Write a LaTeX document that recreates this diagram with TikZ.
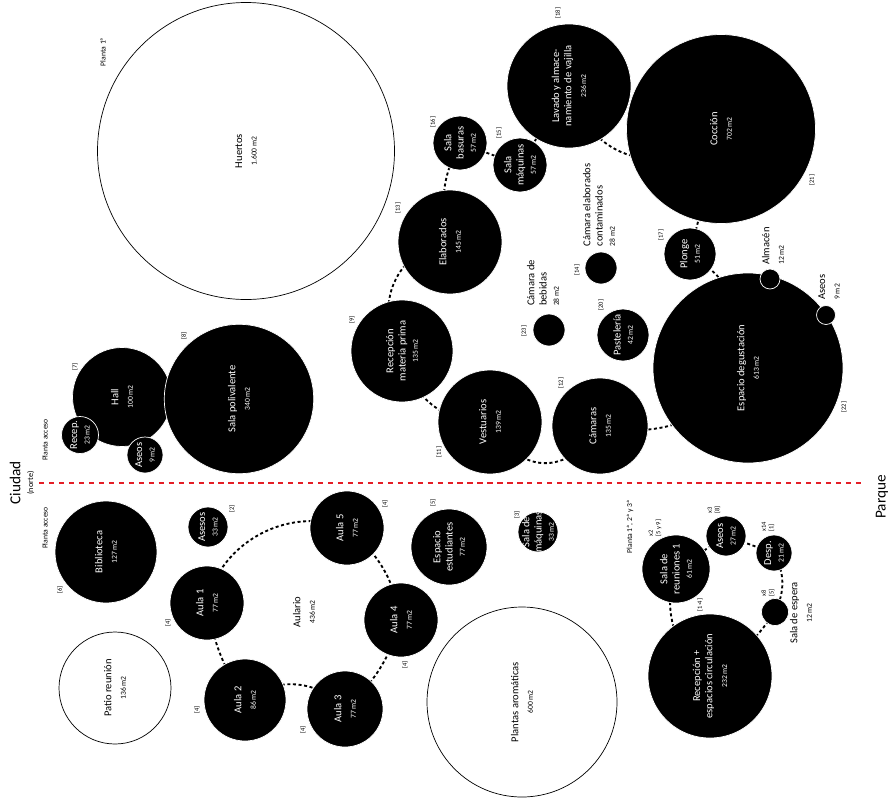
\documentclass[tikz,border=0pt]{standalone}
\usepackage{fontspec}
\setmainfont{Carlito}
\usetikzlibrary{
    positioning,
    backgrounds
}
\definecolor{limitred}{RGB}{228, 30, 38}
\newcommand{\msq}[1]{{\fontsize{6.5}{8}\selectfont #1 m2}}
\tikzset{
    room/.style={circle, fill=black, draw=white, line width=0.6pt, inner sep=0pt, minimum size=#1*0.06cm},
    openroom/.style={circle, fill=white, draw=black, line width=0.6pt, inner sep=0pt, minimum size=#1*0.06cm},
    rtxt/.style={rotate=90, align=center, text=white, inner sep=0pt, font=\fontsize{9}{10.5}\selectfont},
    otxt/.style={rtxt, text=black},
    sidetxt/.style={rotate=90, align=left, inner sep=0pt, font=\fontsize{9}{10.5}\selectfont},
    roomtag/.style={rotate=90, align=left, inner sep=0pt, font=\fontsize{5.5}{6.5}\selectfont},
    plantatxt/.style={rotate=90, inner sep=0pt, font=\fontsize{6.5}{8}\selectfont},
    link/.style={line width=1.6pt, dash pattern=on 2.6pt off 2.2pt},
    divider/.style={draw=limitred, line width=2.4pt, dash pattern=on 4.5pt off 4pt}
}

\begin{document}
\begin{tikzpicture}[x=0.03cm, y=-0.03cm]
    \useasboundingbox (0,0) rectangle (892,803);

    % Planta 1a: huertos y cocina
    \node[plantatxt] (p1) at (103,52) {Planta 1ª};
    \node[openroom=148.5, label={[otxt]center:{Huertos\\[2pt]\msq{1.600}}}] (hue) at (246,151) {};
    \node[room=62, label={[rtxt]center:{Lavado y almace-\\namiento de vajilla\\[2pt]\msq{236}}}] (lav) at (569,86) {};
    \node[room=94.5, label={[rtxt]center:{Cocción\\[2pt]\msq{702}}}] (coc) at (721,129) {};
    \node[room=27, label={[rtxt]center:{Sala\\basuras\\\msq{57}}}] (bas) at (460,143) {};
    \node[room=27, label={[rtxt]center:{Sala\\máquinas\\\msq{57}}}] (maq) at (520,165) {};
    \node[room=52, label={[rtxt]center:{Elaborados\\[2pt]\msq{145}}}] (ela) at (450,242) {};
    \node[room=26, label={[rtxt]center:{Plonge\\\msq{51}}}] (plo) at (690,254) {};
    \node[room=95, label={[rtxt]center:{Espacio degustación\\[2pt]\msq{613}}}] (deg) at (748,368) {};
    \node[room=10] (alm) at (770,279) {};
    \node[room=9.5] (asc) at (826,315) {};
    \node[room=16] (cec) at (601,268) {};
    \node[room=16] (beb) at (549,330) {};
    \node[room=26, label={[rtxt]center:{Pastelería\\\msq{42}}}] (pas) at (623,335) {};
    \node[room=51, label={[rtxt]center:{Recepción\\materia prima\\\msq{135}}}] (rmp) at (402,351) {};
    \node[room=52, label={[rtxt]center:{Vestuarios\\[2pt]\msq{139}}}] (ves) at (490,422) {};
    \node[room=48, label={[rtxt]center:{Cámaras\\[2pt]\msq{135}}}] (cam) at (600,426) {};

    % textos fuera de los circulos
    \node[sidetxt] (cecl) at (599,205) {Cámara elaborados\\contaminados\\\msq{28}};
    \node[sidetxt] (bebl) at (543,283) {Cámara de\\bebidas\\\msq{28}};
    \node[sidetxt] (alml) at (773,246) {Almacén\\[2pt]\msq{12}};
    \node[sidetxt] (ascl) at (829,287) {Aseos\\[2pt]\msq{9}};

    % numeros
    \node[roomtag] at (558,13) {[18]};
    \node[roomtag] at (433,122) {[16]};
    \node[roomtag] at (499,133) {[15]};
    \node[roomtag] at (398,208) {[13]};
    \node[roomtag] at (812,180) {[21]};
    \node[roomtag] at (661,235) {[17]};
    \node[roomtag] at (577,270) {[14]};
    \node[roomtag] at (601,305) {[20]};
    \node[roomtag] at (524,331) {[23]};
    \node[roomtag] at (352,320) {[9]};
    \node[roomtag] at (561,383) {[12]};
    \node[roomtag] at (439,452) {[11]};
    \node[roomtag] at (844,407) {[22]};

    % Planta acceso (norte)
    \node[plantatxt] (pa1) at (45,440) {Planta acceso};
    \node[room=49.5, label={[rtxt]center:{Hall\\[2pt]\msq{100}}}] (hall) at (122,397) {};
    \node[room=74.7, label={[rtxt]center:{Sala polivalente\\[2pt]\msq{340}}}] (pol) at (239,399) {};
    \node[room=18.5, label={[rtxt]center:{Recep.\\\msq{23}}}] (rcp) at (80,435) {};
    \node[room=18, label={[rtxt]center:{Aseos\\\msq{9}}}] (aseh) at (145,455) {};
    \node[roomtag] at (75,367) {[7]};
    \node[roomtag] at (184,336) {[8]};

    % limite ciudad / parque
    \node[rotate=90, align=center, inner sep=0pt, font=\fontsize{13}{11}\selectfont] (city) at (22,483) {Ciudad\\{\fontsize{7}{8}\selectfont(norte)}};
    \node[rotate=90, inner sep=0pt, font=\fontsize{13}{14}\selectfont] (park) at (882,497) {Parque};
    \draw[divider, shorten <=4pt, shorten >=10pt] (city.south) -- (city.south -| park.north);

    % Planta acceso (sur): aulario
    \node[plantatxt] (pa2) at (45,528) {Planta acceso};
    \node[room=51, label={[rtxt]center:{Biblioteca\\[2pt]\msq{127}}}] (bib) at (106,552) {};
    \node[room=20, label={[rtxt]center:{Asesos\\\msq{33}}}] (asb) at (208,527) {};
    \node[room=37, label={[rtxt]center:{Aula 1\\[2pt]\msq{77}}}] (au1) at (207,603) {};
    \node[room=37, label={[rtxt]center:{Aula 5\\[2pt]\msq{77}}}] (au5) at (347,528) {};
    \node[room=37, label={[rtxt]center:{Aula 4\\[2pt]\msq{77}}}] (au4) at (401,620) {};
    \node[room=38, label={[rtxt]center:{Aula 3\\[2pt]\msq{77}}}] (au3) at (345,709) {};
    \node[room=41, label={[rtxt]center:{Aula 2\\[2pt]\msq{86}}}] (au2) at (245,700) {};
    \node[otxt] (aul) at (304,612) {Aulario\\[2pt]\msq{436}};
    \node[openroom=56, label={[otxt]center:{Patio reunión\\[2pt]\msq{136}}}] (pat) at (115,688) {};
    \node[room=38, label={[rtxt]center:{Espacio\\estudiantes\\\msq{77}}}] (est) at (449,547) {};
    \node[room=20, label={[rtxt]center:{Sala de\\máquinas\\\msq{33}}}] (smq) at (538,532) {};
    \node[openroom=95, label={[otxt]center:{Plantas aromáticas\\[2pt]\msq{600}}}] (aro) at (522,702) {};
    \node[roomtag] at (60,590) {[6]};
    \node[roomtag] at (232,509) {[2]};
    \node[roomtag] at (168,623) {[4]};
    \node[roomtag] at (385,504) {[4]};
    \node[roomtag] at (405,665) {[4]};
    \node[roomtag] at (303,730) {[4]};
    \node[roomtag] at (197,710) {[4]};
    \node[roomtag] at (433,503) {[5]};
    \node[roomtag] at (517,515) {[3]};

    % Plantas 1a, 2a y 3a: oficinas
    \node[plantatxt] (p123) at (630,527) {Planta 1ª, 2ª y 3ª};
    \node[room=34, label={[rtxt]center:{Sala de\\reuniones 1\\\msq{61}}}] (reu) at (676,569) {};
    \node[room=20, label={[rtxt]center:{Aseos\\\msq{27}}}] (asn) at (726,536) {};
    \node[room=18, label={[rtxt]center:{Desp.\\\msq{21}}}] (des) at (774,553) {};
    \node[room=13.5] (esp) at (775,612) {};
    \node[room=62, label={[rtxt]center:{Recepción +\\espacios circulación\\[2pt]\msq{232}}}] (rec) at (710,676) {};
    \node[sidetxt, align=center] (espl) at (801,613) {Sala de espera\\[2pt]\msq{12}};
    \node[roomtag] at (655,528) {x2\\{}[5 y 9]};
    \node[roomtag] at (714,510) {x3\\{}[8]};
    \node[roomtag] at (768,527) {x14\\{}[1]};
    \node[roomtag] at (768,593) {x8\\{}[5]};
    \node[roomtag] at (700,605) {[1-4]};

    % recorridos
    \begin{scope}[on background layer]
        \draw[link] (rmp.center) to[bend left=60, looseness=1.15] (ela.center);
        \draw[link] (ela.center) to[bend left=22] (bas.center);
        \draw[link] (bas.center) -- (maq.center);
        \draw[link] (maq.center) -- (lav.center);
        \draw[link] (lav.center) to[bend right=60, looseness=1.25] (coc.center);
        \draw[link] (coc.center) -- (plo.center);
        \draw[link] (plo.center) to[bend left=31] (deg.center);
        \draw[link] (deg.center) to[bend left=34] (cam.center);
        \draw[link] (cam.center) to[bend left=60, looseness=1.4] (ves.center);
        \draw[link] (ves.center) to[bend left=44] (rmp.center);

        \draw[link] (au1.center) to[bend left=50] (au5.center);
        \draw[link] (au5.center) to[bend left=20] (au4.center);
        \draw[link] (au4.center) to[bend left=15] (au3.center);
        \draw[link] (au3.center) to[bend right=43] (au2.center);
        \draw[link] (au2.center) to[bend left=12] (au1.center);

        \draw[link] (reu.center) -- (asn.center);
        \draw[link] (asn.center) -- (des.center);
        \draw[link] (des.center) to[bend left=27] (esp.center);
        \draw[link] (esp.center) to[bend left=10] (rec.center);
        \draw[link] (rec.center) to[bend left=37] (reu.center);
    \end{scope}
\end{tikzpicture}
\end{document}
